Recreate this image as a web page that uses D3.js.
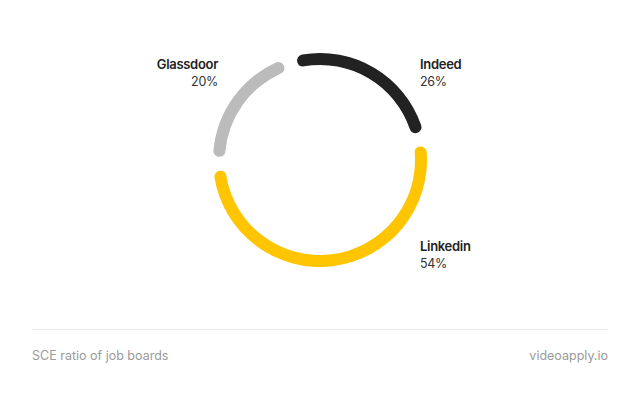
<!DOCTYPE html>
<html>
<head>
<meta charset="utf-8">
<script src="https://cdn.jsdelivr.net/npm/d3@7"></script>
<style>
  html, body { margin: 0; padding: 0; background: #fff; }
  svg { display: block; font-family: Inter, "Noto Sans", sans-serif; }
</style>
</head>
<body>
<svg id="chart" width="640" height="394"></svg>
<script>
const categories = ["Indeed", "Linkedin", "Glassdoor"];
const values = [26, 54, 20];
const valueLabels = ["26%", "54%", "20%"];
const colors = ["#222222", "#FFC500", "#BBBBBB"];
const caption = "SCE ratio of job boards";
const source = "videoapply.io";

const W = 640, H = 394;
const cx = 320, cy = 160;
const rOuter = 107, thickness = 12;
const svg = d3.select("#chart");

const deg = Math.PI / 180;
const pad = 7.9 * deg;
const start = -17 * deg;

const pie = d3.pie().sort(null).value(d => d.value)
  .startAngle(start).endAngle(start + 2 * Math.PI).padAngle(pad);
const data = categories.map((c, i) => ({ name: c, value: values[i], label: valueLabels[i], color: colors[i] }));
const arcs = pie(data);

const arc = d3.arc()
  .innerRadius(rOuter - thickness)
  .outerRadius(rOuter)
  .cornerRadius(thickness / 2)
  .padRadius(rOuter - thickness / 2);

const g = svg.append("g").attr("transform", `translate(${cx},${cy})`);
g.selectAll("path").data(arcs).join("path")
  .attr("d", arc)
  .attr("fill", d => d.data.color);

// labels at corners according to segment mid-angle
const lx = 100, ly = 91;
g.selectAll("g.lab").data(arcs).join("g").attr("class", "lab")
  .each(function(d) {
    const mid = (d.startAngle + d.endAngle) / 2;
    const sx = Math.sin(mid) >= 0 ? 1 : -1;
    const sy = -Math.cos(mid) >= 0 ? 1 : -1;
    const anchor = sx > 0 ? "start" : "end";
    const x = sx * lx + (sx > 0 ? 0 : -2);
    const y0 = sy * ly;
    const sel = d3.select(this);
    sel.append("text").attr("x", x).attr("y", y0)
      .attr("text-anchor", anchor)
      .attr("font-size", 13).attr("font-weight", 600).attr("fill", "#222")
      .attr("letter-spacing", -0.3)
      .text(d.data.name);
    sel.append("text").attr("x", x).attr("y", y0 + 17)
      .attr("text-anchor", anchor)
      .attr("font-size", 12.5).attr("font-weight", 400).attr("fill", "#333")
      .attr("letter-spacing", -0.3)
      .text(d.data.label);
  });

// footer
svg.append("line").attr("x1", 32).attr("x2", 608).attr("y1", 329.5).attr("y2", 329.5)
  .attr("stroke", "#ebebeb").attr("stroke-width", 1);
svg.append("text").attr("x", 32).attr("y", 360).attr("font-size", 12.5).attr("fill", "#9a9a9a")
  .text(caption);
svg.append("text").attr("x", 608).attr("y", 360).attr("text-anchor", "end").attr("font-size", 12.5).attr("fill", "#9a9a9a")
  .text(source);
</script>
</body>
</html>
